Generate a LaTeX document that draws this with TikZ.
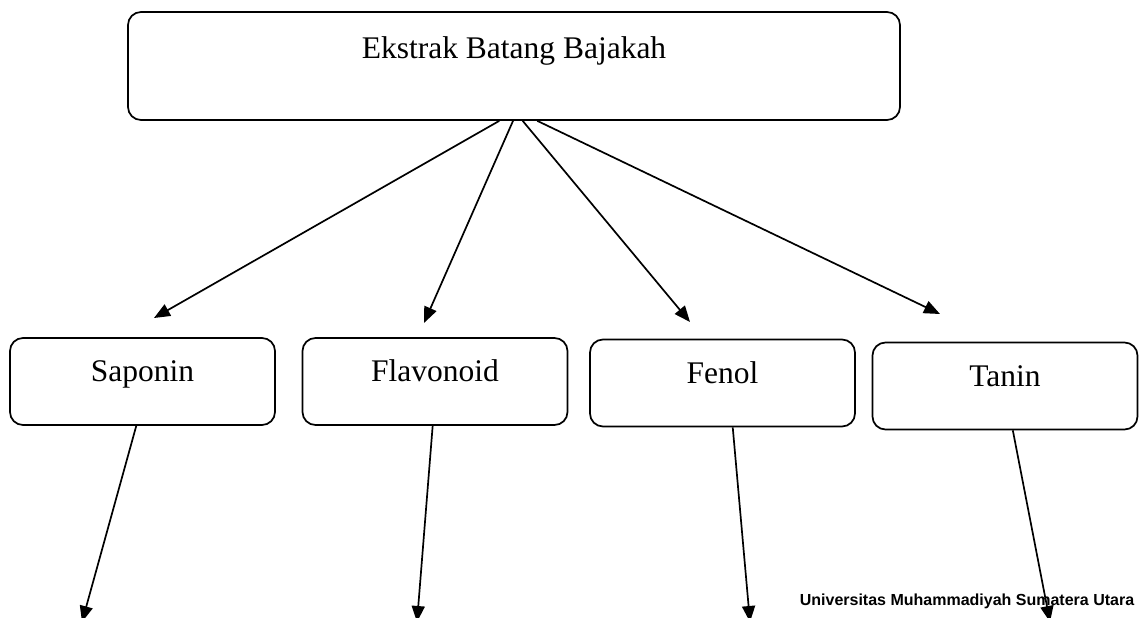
\documentclass[tikz,border=0pt]{standalone}
\usepackage{fontspec}
\setmainfont{Liberation Serif}
\newfontfamily\univfont{Liberation Sans}
\usetikzlibrary{arrows.meta}

\tikzstyle{block} = [rectangle, draw, rounded corners=13pt, inner sep=0pt,
    minimum width=265pt, minimum height=87pt, text height=22pt, text depth=22pt]
\tikzstyle{line} = [draw, -{Triangle[length=16pt,width=13pt]}]

\begin{document}
\begin{tikzpicture}[x=1pt, y=-1pt, line width=1.7pt, font=\fontsize{31.5}{38}\selectfont]
    \path [use as bounding box] (0,0) rectangle (1144,618);
    \clip (0,0) rectangle (1144,618);

    \node [block, minimum width=772pt, minimum height=108pt, text depth=36pt] (Ekstrak) at (514,66) {Ekstrak Batang Bajakah};
    \node [block] (Saponin) at (142.5,381.5) {Saponin};
    \node [block] (Flavonoid) at (435,381.5) {Flavonoid};
    \node [block] (Fenol) at (722.5,383) {Fenol};
    \node [block] (Tanin) at (1005,386) {Tanin};

    \node [anchor=base west, inner sep=0pt, font=\univfont\bfseries\fontsize{16}{19}\selectfont] (Univ) at (799,605) {Universitas Muhammadiyah Sumatera Utara};

    % free ends of the arrows
    \coordinate (toSaponin) at (154,318);
    \coordinate (toFlavonoid) at (424,323);
    \coordinate (toFenol) at (690,322);
    \coordinate (toTanin) at (940,314);
    \coordinate (outSaponin) at (82,622);
    \coordinate (outFlavonoid) at (417,622);
    \coordinate (outFenol) at (750,622);
    \coordinate (outTanin) at (1050,622);

    \path [line] (Ekstrak.255.5) -- (toSaponin);
    \path [line] (Ekstrak.269) -- (toFlavonoid);
    \path [line] (Ekstrak.279.5) -- (toFenol);
    \path [line] (Ekstrak.293.1) -- (toTanin);

    \path [line] (Saponin.262.8) -- (outSaponin);
    \path [line] (Flavonoid.267.4) -- (outFlavonoid);
    \path [line] (Fenol.283.6) -- (outFenol);
    \path [line] (Tanin.280.4) -- (outTanin);
\end{tikzpicture}
\end{document}
